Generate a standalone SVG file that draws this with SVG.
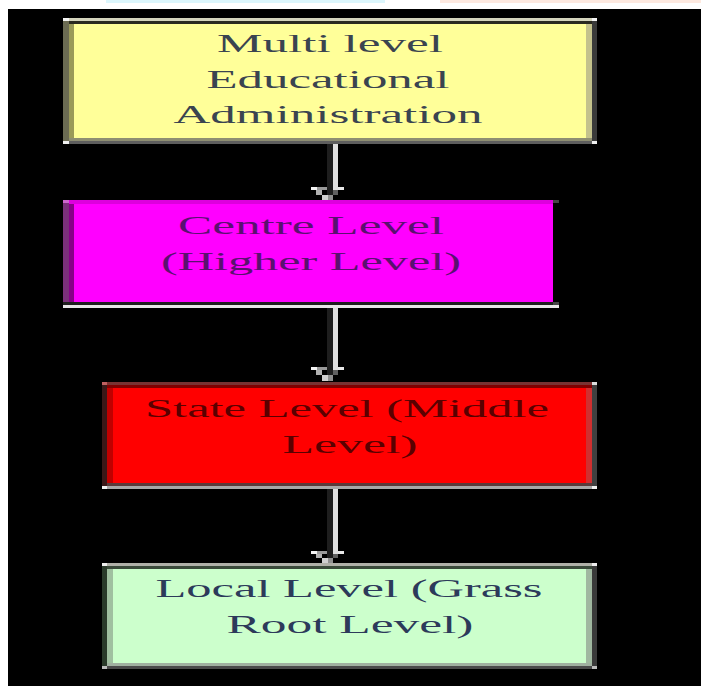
<svg xmlns="http://www.w3.org/2000/svg" width="701" height="686" viewBox="0 0 701 686">
<style>
.t{font-family:"Liberation Serif","Times New Roman",serif;font-size:25px;text-anchor:middle}
.t1{fill:#3a4450}
.t2{fill:#5a1070}
.t3{fill:#5a0000}
.t4{fill:#2c3a5a}
</style>
<rect x="0" y="0" width="701" height="686" fill="#ffffff"/>
<rect x="106" y="0" width="279" height="3" fill="#dcf6fc"/>
<rect x="440" y="0" width="261" height="3" fill="#fde9e0"/>
<rect x="8" y="9" width="693" height="677" fill="#000000"/>

<g id="connectors">
  <g id="c1">
    <rect x="327" y="144" width="6" height="51" fill="#1e1e1e"/>
    <rect x="333" y="144" width="5" height="46" fill="#e0e0e0"/>
    <rect x="311" y="187" width="6" height="3" fill="#f4f4f4"/>
    <rect x="317" y="187" width="10" height="3" fill="#9a9a9a"/>
    <rect x="338" y="187" width="6" height="3" fill="#e8e8e8"/>
    <rect x="316" y="190" width="6" height="5" fill="#b0b0b0"/>
    <rect x="333" y="190" width="5" height="5" fill="#606060"/>
    <rect x="322" y="195" width="6" height="5" fill="#d0d0d0"/>
    <rect x="328" y="195" width="5" height="5" fill="#909090"/>
  </g>
  <g id="c2">
    <rect x="327" y="308" width="6" height="67" fill="#1e1e1e"/>
    <rect x="333" y="308" width="5" height="62" fill="#e0e0e0"/>
    <rect x="311" y="367" width="6" height="3" fill="#f4f4f4"/>
    <rect x="317" y="367" width="10" height="3" fill="#9a9a9a"/>
    <rect x="338" y="367" width="6" height="3" fill="#e8e8e8"/>
    <rect x="316" y="370" width="6" height="5" fill="#b0b0b0"/>
    <rect x="333" y="370" width="5" height="5" fill="#606060"/>
    <rect x="322" y="375" width="6" height="6" fill="#d0d0d0"/>
    <rect x="328" y="375" width="5" height="6" fill="#909090"/>
  </g>
  <g id="c3">
    <rect x="327" y="489" width="6" height="70" fill="#1e1e1e"/>
    <rect x="333" y="489" width="5" height="65" fill="#e0e0e0"/>
    <rect x="311" y="551" width="6" height="3" fill="#f4f4f4"/>
    <rect x="317" y="551" width="10" height="3" fill="#9a9a9a"/>
    <rect x="338" y="551" width="6" height="3" fill="#e8e8e8"/>
    <rect x="316" y="554" width="6" height="4" fill="#b0b0b0"/>
    <rect x="333" y="554" width="5" height="4" fill="#606060"/>
    <rect x="322" y="558" width="6" height="5" fill="#d0d0d0"/>
    <rect x="328" y="558" width="5" height="5" fill="#909090"/>
  </g>
</g>

<g id="node-multi-level">
  <rect x="63" y="18" width="534" height="126" fill="#ffff99"/>
  <rect x="63" y="18" width="534" height="3" fill="#d4d4bc"/>
  <rect x="63" y="18" width="6" height="3" fill="#f4f4f4"/>
  <rect x="592" y="18" width="5" height="3" fill="#f4f4f4"/>
  <rect x="69" y="21" width="523" height="3" fill="#2a2a20"/>
  <rect x="63" y="21" width="6" height="120" fill="#6b6b52"/>
  <rect x="69" y="24" width="5" height="114" fill="#9a9a58"/>
  <rect x="586" y="24" width="6" height="114" fill="#c4c28c"/>
  <rect x="592" y="21" width="5" height="120" fill="#3a3a3a"/>
  <rect x="69" y="138" width="523" height="3" fill="#8e8e72"/>
  <rect x="63" y="141" width="534" height="3" fill="#5e5e5e"/>
  <rect x="63" y="141" width="6" height="3" fill="#f0f0f0"/>
  <rect x="592" y="141" width="5" height="3" fill="#f0f0f0"/>
  <text class="t t1" x="330" y="52" textLength="226" lengthAdjust="spacingAndGlyphs">Multi level</text>
  <text class="t t1" x="328" y="88" textLength="243" lengthAdjust="spacingAndGlyphs">Educational</text>
  <text class="t t1" x="328" y="123" textLength="309" lengthAdjust="spacingAndGlyphs">Administration</text>
</g>

<g id="node-centre-level">
  <rect x="63" y="200" width="490" height="102" fill="#ff00ff"/>
  <rect x="69" y="200" width="484" height="4" fill="#dd00dd"/>
  <rect x="63" y="200" width="6" height="102" fill="#7a307a"/>
  <rect x="63" y="200" width="6" height="3" fill="#cc66cc"/>
  <rect x="69" y="204" width="5" height="98" fill="#880088"/>
  <rect x="553" y="200" width="6" height="3" fill="#444444"/>
  <rect x="63" y="302" width="490" height="3" fill="#1e1e1e"/>
  <rect x="553" y="302" width="6" height="3" fill="#444444"/>
  <rect x="63" y="305" width="496" height="3" fill="#e6e6e6"/>
  <text class="t t2" x="311" y="234" textLength="266" lengthAdjust="spacingAndGlyphs">Centre Level</text>
  <text class="t t2" x="311" y="270" textLength="300" lengthAdjust="spacingAndGlyphs">(Higher Level)</text>
</g>

<g id="node-state-level">
  <rect x="102" y="382" width="495" height="107" fill="#ff0000"/>
  <rect x="102" y="382" width="490" height="3" fill="#7a3232"/>
  <rect x="102" y="382" width="5" height="3" fill="#c06060"/>
  <rect x="592" y="382" width="5" height="3" fill="#dddddd"/>
  <rect x="107" y="385" width="485" height="3" fill="#800000"/>
  <rect x="102" y="385" width="5" height="101" fill="#3a1818"/>
  <rect x="107" y="388" width="6" height="95" fill="#c00000"/>
  <rect x="586" y="388" width="6" height="95" fill="#d03030"/>
  <rect x="592" y="385" width="5" height="101" fill="#404040"/>
  <rect x="107" y="483" width="485" height="3" fill="#5a3a3a"/>
  <rect x="102" y="486" width="495" height="3" fill="#a8a8a8"/>
  <rect x="102" y="486" width="5" height="3" fill="#f0f0f0"/>
  <rect x="592" y="486" width="5" height="3" fill="#f0f0f0"/>
  <text class="t t3" x="347" y="417" textLength="404" lengthAdjust="spacingAndGlyphs">State Level (Middle</text>
  <text class="t t3" x="350" y="453" textLength="135" lengthAdjust="spacingAndGlyphs">Level)</text>
</g>

<g id="node-local-level">
  <rect x="102" y="563" width="495" height="106" fill="#ccffcc"/>
  <rect x="102" y="563" width="495" height="3" fill="#b0b0a8"/>
  <rect x="102" y="563" width="5" height="3" fill="#eeeeee"/>
  <rect x="592" y="563" width="5" height="3" fill="#eeeeee"/>
  <rect x="107" y="566" width="485" height="3" fill="#3a4a3a"/>
  <rect x="102" y="566" width="5" height="100" fill="#2a3a2a"/>
  <rect x="107" y="569" width="6" height="94" fill="#a0c0a0"/>
  <rect x="586" y="569" width="6" height="94" fill="#a0b8a0"/>
  <rect x="592" y="566" width="5" height="100" fill="#3a3a3a"/>
  <rect x="107" y="663" width="485" height="3" fill="#a0b0a0"/>
  <rect x="102" y="666" width="495" height="3" fill="#4a4a4a"/>
  <rect x="102" y="666" width="5" height="3" fill="#bbbbbb"/>
  <rect x="592" y="666" width="5" height="3" fill="#bbbbbb"/>
  <text class="t t4" x="349" y="597" textLength="387" lengthAdjust="spacingAndGlyphs">Local Level (Grass</text>
  <text class="t t4" x="350" y="633" textLength="247" lengthAdjust="spacingAndGlyphs">Root Level)</text>
</g>
</svg>
